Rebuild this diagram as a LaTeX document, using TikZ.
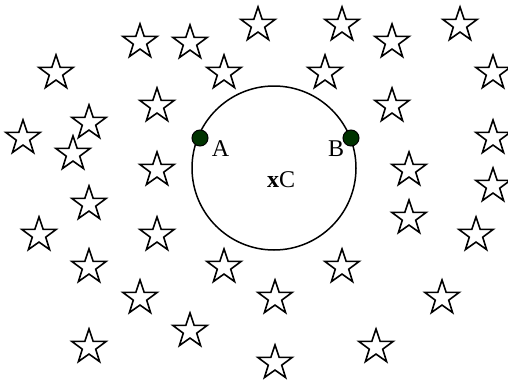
\documentclass[tikz,border=0pt]{standalone}
\usepackage{fontspec}
\setmainfont{Liberation Serif}
\usetikzlibrary{shapes.geometric}
\definecolor{dotgreen}{RGB}{0,51,0}
\tikzset{
  starmark/.style={star, star points=5, star point ratio=2.55, draw=black,
    line width=1.6pt, fill=white, minimum size=36pt, inner sep=0pt},
  pointdot/.style={circle, draw=black, line width=1pt, fill=dotgreen,
    minimum size=16pt, inner sep=0pt},
  lbl/.style={font=\fontsize{24}{28}\selectfont, inner sep=0pt}
}
\begin{document}
\begin{tikzpicture}[x=1pt,y=-1pt]
\useasboundingbox (0,0) rectangle (508,380);
% ====================
% Stars scattered around the circle
\foreach \sx/\sy [count=\i] in {258/25, 342/25, 460/25, 140/42, 190/43, 392/42,
  56/73, 224/73, 325/73, 493/73, 157/106, 392/106, 89/123, 23/138, 493/138,
  73/154, 157/170, 409/170, 493/186, 89/204, 409/218, 39/235, 157/235, 476/235,
  89/267, 224/267, 342/267, 140/298, 275/298, 442/298, 190/331, 89/347, 376/347,
  275/363}
  \node[starmark] (star\i) at (\sx,\sy) {};

% ====================
% Circle through A and B, with centre C
\node[circle, draw, line width=1.5pt, minimum size=164pt, inner sep=0pt] (ring) at (274,168) {};
% Points A and B on the circle
\node[pointdot] (A) at (200,138) {};
\node[pointdot] (B) at (351,138) {};
% Labels
\node[lbl] (labA) at (220.5,148.5) {A};
\node[lbl] (labB) at (336,148.5) {B};
\node[lbl] (labC) at (281,179.5) {\textbf{x}C};
\end{tikzpicture}
\end{document}
